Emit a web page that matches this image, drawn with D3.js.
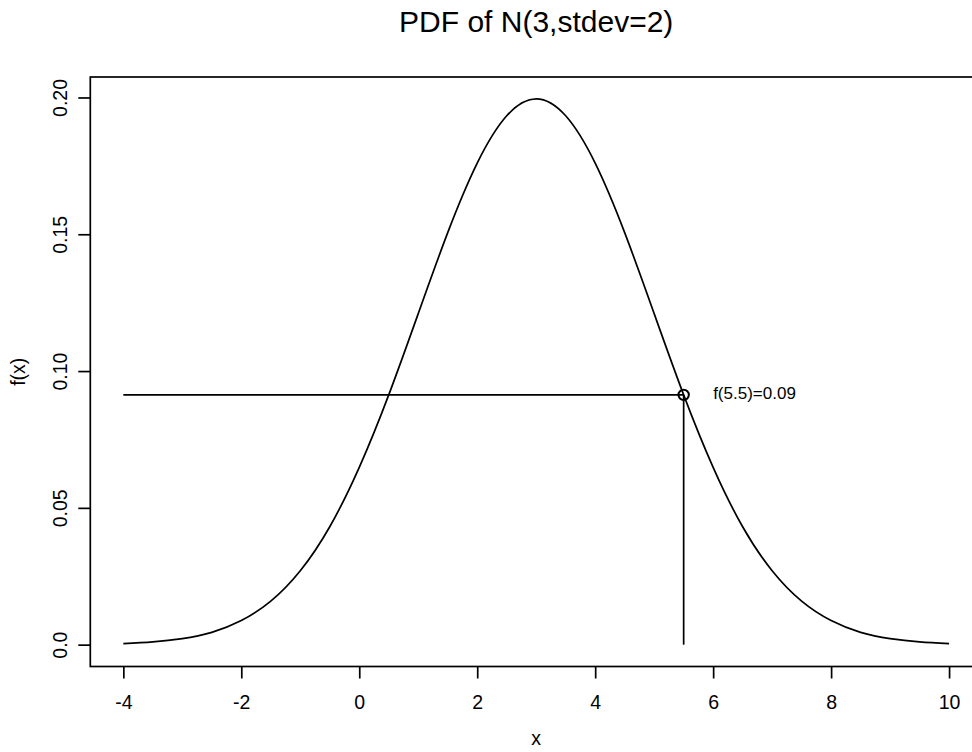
<!DOCTYPE html>
<html>
<head>
<meta charset="utf-8">
<script src="https://cdn.jsdelivr.net/npm/d3@7"></script>
<style>
  html, body { margin: 0; background: #fff; overflow: hidden; width: 972px; height: 752px; }
  svg { display: block; overflow: hidden; }
  text { font-family: "Liberation Sans", Arial, Helvetica, sans-serif; fill: #000; }
</style>
</head>
<body>
<div id="chart"></div>
<script>
// x grid and density values
var xs = [-4, -3.5, -3, -2.5, -2, -1.5, -1, -0.5, 0, 0.5, 1, 1.5, 2, 2.5, 3,
          3.5, 4, 4.5, 5, 5.5, 6, 6.5, 7, 7.5, 8, 8.5, 9, 9.5, 10];
var fx = [0.0004, 0.0010, 0.0022, 0.0045, 0.0088, 0.0159, 0.0270, 0.0431, 0.0648, 0.0913,
          0.1210, 0.1506, 0.1760, 0.1933, 0.1995, 0.1933, 0.1760, 0.1506, 0.1210, 0.0913,
          0.0648, 0.0431, 0.0270, 0.0159, 0.0088, 0.0045, 0.0022, 0.0010, 0.0004];

var xTicks = [-4, -2, 0, 2, 4, 6, 8, 10];
var yTicks = [0, 0.05, 0.10, 0.15, 0.20];
var yTickLabels = ["0.0", "0.05", "0.10", "0.15", "0.20"];

var markX = 5.5;
var markY = 0.0913;
var markLabel = "f(5.5)=0.09";

var w = 972, h = 752;
var pLeft = 90.3, pRight = 982.1, pTop = 77, pBottom = 666.5;

///////// SCALES /////////
// R style: data range stretched by 4% on each side
var xpad = (d3.max(xs) - d3.min(xs)) * 0.04;
var ypad = (d3.max(fx) - 0) * 0.04;

var xscale = d3.scaleLinear()
    .domain([d3.min(xs) - xpad, d3.max(xs) + xpad])
    .range([pLeft, pRight]);

var yscale = d3.scaleLinear()
    .domain([0 - ypad, d3.max(fx) + ypad])
    .range([pBottom, pTop]);

var svg = d3.select("#chart")
    .append("svg")
    .attr("width", w)
    .attr("height", h);

// the plot box runs past the right edge of the picture, so clip it
svg.append("clipPath")
    .attr("id", "page")
    .append("rect")
    .attr("width", w)
    .attr("height", h);

svg.append("rect")
    .attr("clip-path", "url(#page)")
    .attr("x", pLeft)
    .attr("y", pTop)
    .attr("width", pRight - pLeft)
    .attr("height", pBottom - pTop)
    .attr("fill", "none")
    .attr("stroke", "#000")
    .attr("stroke-width", 1.7);

///////// AXES /////////
var xaxis = d3.axisBottom(xscale)
    .tickValues(xTicks)
    .tickSize(12)
    .tickFormat(function(d) { return String(d); });

var yaxis = d3.axisLeft(yscale)
    .tickValues(yTicks)
    .tickSize(12)
    .tickFormat(function(d, i) { return yTickLabels[i]; });

var gx = svg.append("g")
    .attr("transform", "translate(0," + pBottom + ")")
    .call(xaxis);
gx.select(".domain").remove();
gx.selectAll("line").attr("stroke-width", 1.7);
gx.selectAll("text")
    .attr("font-size", "19.5px")
    .attr("dy", null)
    .attr("y", 37)
    .attr("dominant-baseline", "middle");

var gy = svg.append("g")
    .attr("transform", "translate(" + pLeft + ",0)")
    .call(yaxis);
gy.select(".domain").remove();
gy.selectAll("line").attr("stroke-width", 1.7);
gy.selectAll("text")
    .attr("font-size", "19.5px")
    .attr("x", null)
    .attr("dy", null)
    .attr("text-anchor", "middle")
    .attr("dominant-baseline", "middle")
    .attr("transform", "translate(-28,0) rotate(-90)");

///////// CURVE /////////
var pts = xs.map(function(d, i) { return [d, fx[i]]; });

var line = d3.line()
    .x(function(d) { return xscale(d[0]); })
    .y(function(d) { return yscale(d[1]); })
    .curve(d3.curveNatural);

svg.append("path")
    .datum(pts)
    .attr("d", line)
    .attr("fill", "none")
    .attr("stroke", "#000")
    .attr("stroke-width", 1.7);

// guide lines to the marked point
svg.append("line")
    .attr("x1", xscale(d3.min(xs)))
    .attr("y1", yscale(markY))
    .attr("x2", xscale(markX))
    .attr("y2", yscale(markY))
    .attr("stroke", "#000")
    .attr("stroke-width", 1.7);

svg.append("line")
    .attr("x1", xscale(markX))
    .attr("y1", yscale(markY))
    .attr("x2", xscale(markX))
    .attr("y2", yscale(0))
    .attr("stroke", "#000")
    .attr("stroke-width", 1.7);

svg.append("circle")
    .attr("cx", xscale(markX))
    .attr("cy", yscale(markY))
    .attr("r", 5.2)
    .attr("fill", "none")
    .attr("stroke", "#000")
    .attr("stroke-width", 2);

svg.append("text")
    .attr("x", xscale(6))
    .attr("y", yscale(markY))
    .attr("dominant-baseline", "middle")
    .attr("font-size", "17px")
    .text(markLabel);

///////// TITLES /////////
svg.append("text")
    .attr("x", (pLeft + pRight) / 2)
    .attr("y", 24)
    .attr("text-anchor", "middle")
    .attr("dominant-baseline", "middle")
    .attr("font-size", "30px")
    .text("PDF of N(3,stdev=2)");

svg.append("text")
    .attr("x", (pLeft + pRight) / 2)
    .attr("y", 740)
    .attr("text-anchor", "middle")
    .attr("dominant-baseline", "middle")
    .attr("font-size", "19.5px")
    .text("x");

svg.append("text")
    .attr("transform", "translate(20," + ((pTop + pBottom) / 2) + ") rotate(-90)")
    .attr("text-anchor", "middle")
    .attr("dominant-baseline", "middle")
    .attr("font-size", "19.5px")
    .text("f(x)");
</script>
</body>
</html>
